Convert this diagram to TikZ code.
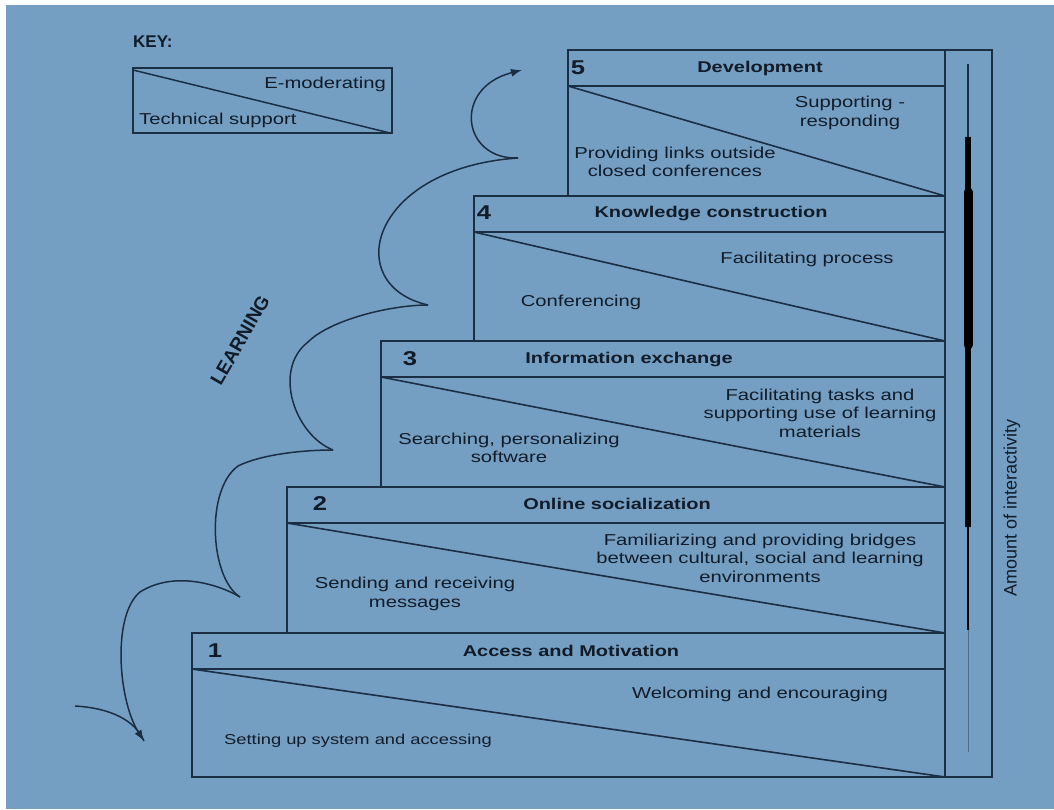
\documentclass[tikz,border=0pt]{standalone}
\usepackage{fontspec}
\setmainfont{Liberation Sans}[FakeStretch=1.28]
\newfontfamily\upfont{Liberation Sans}
\usetikzlibrary{arrows.meta}
\definecolor{bgblue}{RGB}{116,159,195}
\definecolor{ink}{RGB}{28,46,68}
\definecolor{txt}{RGB}{18,28,40}
\definecolor{faint}{RGB}{80,110,140}
\begin{document}
\begin{tikzpicture}[x=1pt,y=-1pt,
  frame/.style={draw=ink,line width=1.7pt},
  body/.style={text=txt,font=\fontsize{15.8}{18.5}\selectfont,align=center,inner sep=0pt},
  head/.style={text=txt,font=\bfseries\fontsize{15.6}{18}\selectfont,inner sep=0pt},
  num/.style={text=txt,font=\bfseries\fontsize{20}{24}\selectfont,inner sep=0pt},
  route/.style={draw=ink,line width=1.5pt},
  tip/.style={-{Latex[length=11pt,width=8pt]}}]
\useasboundingbox (0,0) rectangle (1054,809);
\fill[white] (0,0) rectangle (1054,809);
\fill[bgblue] (6,5) rectangle (1054,809);

% key
\node[text=txt,font=\upfont\bfseries\fontsize{17}{20}\selectfont,anchor=west,inner sep=0pt] (keytitle) at (133,42) {KEY:};
\draw[frame,line width=1.5pt] (133,68) rectangle (392,133);
\draw[ink,line width=1.5pt] (133,70) -- (390,133);
\node[body,anchor=east] (keyemod) at (386,84) {E-moderating};
\node[body,anchor=west] (keytech) at (139,120) {Technical support};

% the five steps: left edge, top, bottom
\foreach \xl/\yt/\yb in {192/633/777, 287/487/633, 381/341/487, 474/196/341, 568/50/196}{
  \draw[frame] (\xl,\yt) rectangle (945,\yb);
  \draw[frame] (\xl,\yt+36) -- (945,\yt+36);
  \draw[ink,line width=1.6pt] (\xl,\yt+36) -- (945,\yb);
}

% step 5
\node[num] (n5) at (578,68) {5};
\node[head] (h5) at (760,68) {Development};
\node[body] (em5) at (850,113) {Supporting -\\responding};
\node[body] (ts5) at (675,162) {Providing links outside\\closed conferences};
% step 4
\node[num] (n4) at (484,213) {4};
\node[head] (h4) at (711,213) {Knowledge construction};
\node[body] (em4) at (807,259) {Facilitating process};
\node[body] (ts4) at (581,302) {Conferencing};
% step 3
\node[num] (n3) at (410,359) {3};
\node[head] (h3) at (629,359) {Information exchange};
\node[body] (em3) at (820,413) {Facilitating tasks and\\supporting use of learning\\materials};
\node[body] (ts3) at (509,448) {Searching, personalizing\\software};
% step 2
\node[num] (n2) at (320,504) {2};
\node[head] (h2) at (617,504) {Online socialization};
\node[body] (em2) at (760,558) {Familiarizing and providing bridges\\between cultural, social and learning\\environments};
\node[body] (ts2) at (415,594) {Sending and receiving\\messages};
% step 1
\node[num] (n1) at (215,651) {1};
\node[head] (h1) at (571,651) {Access and Motivation};
\node[body] (em1) at (760,694) {Welcoming and encouraging};
\node[body,font=\fontsize{14.3}{17}\selectfont] (ts1) at (358,741) {Setting up system and accessing};

% interactivity column
\draw[frame] (945,50) rectangle (992,777);
\draw[ink,line width=1.5pt] (968,64) -- (968,137);
\draw[black,line width=6pt] (968,137) -- (968,192);
\draw[black,line width=9pt,line cap=round] (968,192) -- (968,345);
\draw[black,line width=5.5pt] (968,345) -- (968,527);
\draw[black,line width=2pt] (968,527) -- (968,630);
\draw[faint,line width=1pt] (968,630) -- (968,752);
\node[text=txt,font=\upfont\fontsize{18}{20}\selectfont,rotate=90,inner sep=0pt] (amount) at (1012,508) {Amount of interactivity};

% learning path
\node[text=txt,font=\upfont\bfseries\fontsize{19}{21}\selectfont,rotate=60,inner sep=0pt] (learning) at (240,340) {LEARNING};
\coordinate (tipbot) at (144,741);
\coordinate (entry) at (75,706);
\coordinate (c0) at (240,597);
\coordinate (k0) at (238,466);
\coordinate (c1) at (333,450);
\coordinate (k1) at (308,342);
\coordinate (c2) at (428,305);
\coordinate (c3) at (518,158);
\coordinate (tiptop) at (522,70);

\draw[route] (entry) .. controls (110,708) and (135,720) .. (tipbot);
\draw[route,tip] (c0) .. controls (220,585) and (175,570) .. (140,592)
  .. controls (112,615) and (118,700) .. (tipbot);
\draw[route] (c0) .. controls (210,578) and (205,490) .. (k0)
  .. controls (260,455) and (300,450) .. (c1);
\draw[route] (c1) .. controls (295,435) and (272,370) .. (k1)
  .. controls (330,320) and (390,305) .. (c2);
\draw[route] (c2) .. controls (340,285) and (370,168) .. (c3);
\draw[route,tip] (c3) .. controls (462,160) and (452,88) .. (tiptop);
\end{tikzpicture}
\end{document}
